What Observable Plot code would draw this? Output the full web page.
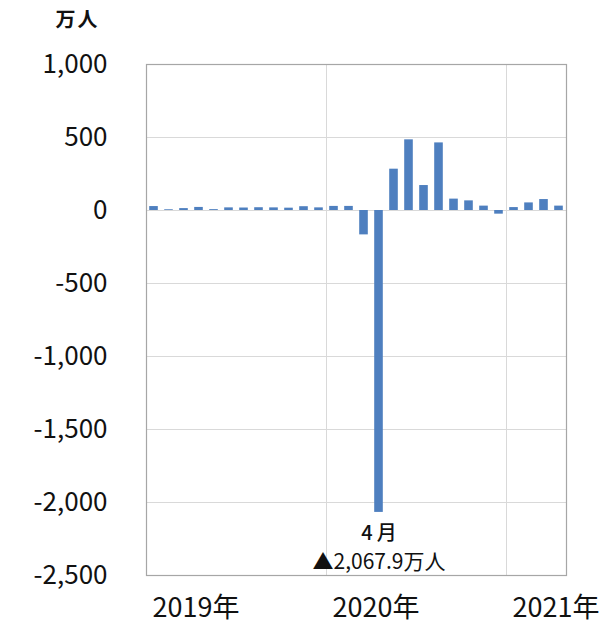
<!DOCTYPE html>
<html>
<head>
<meta charset="utf-8">
<script src="https://cdn.jsdelivr.net/npm/d3@7"></script>
<script src="https://cdn.jsdelivr.net/npm/@observablehq/plot@0.6"></script>
<style>
  html, body { margin: 0; padding: 0; background: #fff; }
  #chart svg { display: block; overflow: visible; }
</style>
</head>
<body>
<div id="chart"></div>
<script>
// Monthly change (万人)
const years = ["2019年", "2020年", "2021年"];
const values2019 = [27, 5, 13, 21, 6, 18, 17, 19, 18, 16, 26, 18];
const values2020 = [28, 28, -167, -2067.9, 283, 484, 171, 463, 78, 66, 30, -25];
const values2021 = [20, 52, 75, 30];
const yTicks = [1000, 500, 0, -500, -1000, -1500, -2000, -2500];
const unitLabel = "万人";
const annotationMonth = "4月";
const annotationValue = "▲2,067.9万人";

const rows = [...values2019, ...values2020, ...values2021].map((v, i) => ({i, v}));
const yearStarts = years.map((y, k) => k * 12);
const aprilRow = rows[12 + 3];

const font = "'Noto Sans CJK JP', 'Noto Sans', sans-serif";
const fmt = d => (d < 0 ? "-" : "") + d3.format(",")(Math.abs(d));

const chart = Plot.plot({
  width: 600,
  height: 627,
  marginLeft: 146,
  marginRight: 34,
  marginTop: 64,
  marginBottom: 52,
  style: {fontFamily: font, background: "#fff", color: "#111"},
  x: {type: "linear", domain: [0, rows.length]},
  y: {domain: [-2500, 1000]},
  marks: [
    Plot.ruleY(yTicks.filter(t => t !== 1000 && t !== -2500), {stroke: "#d9d9d9", strokeWidth: 1}),
    Plot.ruleX(yearStarts.slice(1), {stroke: "#d9d9d9", strokeWidth: 1}),
    Plot.frame({stroke: "#a6a6a6", strokeWidth: 1.2}),
    Plot.rectY(rows, {
      x1: d => d.i, x2: d => d.i + 1, y1: 0, y2: "v",
      fill: "#4e7fbf", insetLeft: 3.2, insetRight: 3.2
    }),
    Plot.axisY({
      ticks: yTicks, tickFormat: fmt, tickSize: 0, tickPadding: 39,
      fontSize: 26, label: null
    }),
    Plot.axisX({
      ticks: yearStarts, tickFormat: d => years[yearStarts.indexOf(d)],
      tickSize: 0, tickPadding: 22, textAnchor: "start", dx: 6,
      fontSize: 27, label: null
    }),
    Plot.text([unitLabel], {
      frameAnchor: "top-left", dx: -91, dy: -44, text: d => d,
      textAnchor: "start", lineAnchor: "middle", fontSize: 20, fontWeight: "bold"
    }),
    Plot.text([aprilRow], {
      x: d => d.i + 0.5, y: "v", text: () => annotationMonth,
      dy: 21, fontSize: 20, fontWeight: 500
    }),
    Plot.text([aprilRow], {
      x: d => d.i + 0.5, y: "v", text: () => annotationValue,
      dy: 50, fontSize: 21
    })
  ]
});
d3.select(chart).selectAll("text")
  .filter(function() { return this.textContent === unitLabel; })
  .attr("letter-spacing", "2px");
d3.select(chart).selectAll("text")
  .filter(function() { return this.textContent === annotationMonth; })
  .attr("letter-spacing", "4px").attr("dx", 2);
document.getElementById("chart").append(chart);
</script>
</body>
</html>
